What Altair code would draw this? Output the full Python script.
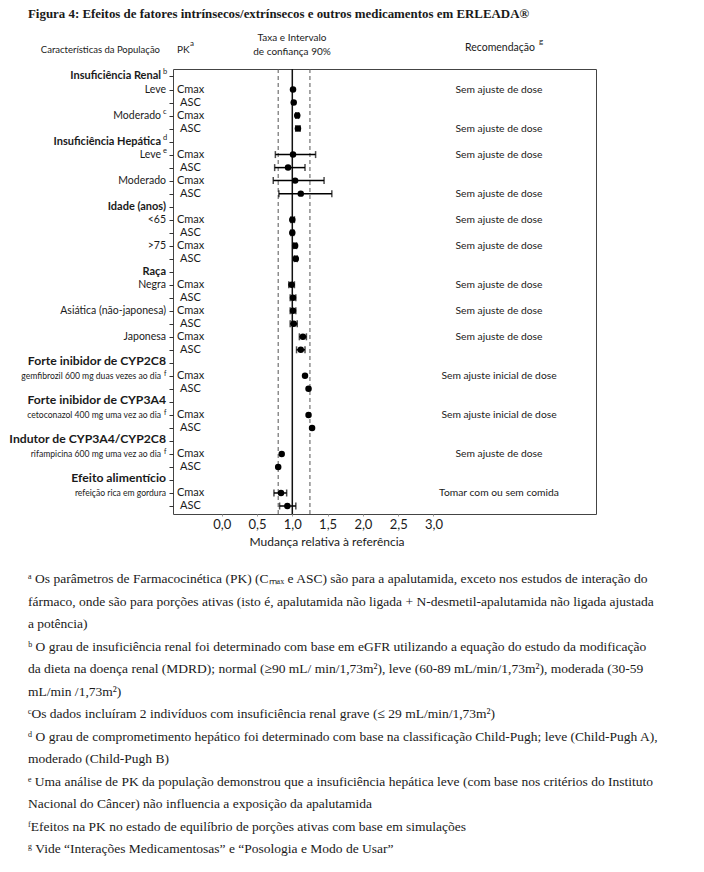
import altair as alt
import pandas as pd

TITLE = "Figura 4: Efeitos de fatores intrínsecos/extrínsecos e outros medicamentos em ERLEADA®"

ROW_LABELS = [
    "Insuficiência Renal", "Leve", "", "Moderado", "",
    "Insuficiência Hepática", "Leve", "", "Moderado", "",
    "Idade (anos)", "<65", "", ">75", "",
    "Raça", "Negra", "", "Asiática (não-japonesa)", "", "Japonesa", "",
    "Forte inibidor de CYP2C8", "gemfibrozil 600 mg duas vezes ao dia", "",
    "Forte inibidor de CYP3A4", "cetoconazol 400 mg uma vez ao dia", "",
    "Indutor de CYP3A4/CYP2C8", "rifampicina 600 mg uma vez ao dia", "",
    "Efeito alimentício", "refeição rica em gordura", "",
]
ROW_KIND = [
    "h1", "n", "", "n", "",
    "h1", "n", "", "n", "",
    "h1", "n", "", "n", "",
    "h1", "n", "", "n", "", "n", "",
    "h2", "d", "",
    "h2", "d", "",
    "h2", "d", "",
    "h2", "d", "",
]
ROW_SUP = [
    "b", "", "", "c", "",
    "d", "e", "", "", "",
    "", "", "", "", "",
    "", "", "", "", "", "", "",
    "", "f", "",
    "", "f", "",
    "", "f", "",
    "", "", "",
]
PK = [
    "", "Cmax", "ASC", "Cmax", "ASC",
    "", "Cmax", "ASC", "Cmax", "ASC",
    "", "Cmax", "ASC", "Cmax", "ASC",
    "", "Cmax", "ASC", "Cmax", "ASC", "Cmax", "ASC",
    "", "Cmax", "ASC",
    "", "Cmax", "ASC",
    "", "Cmax", "ASC",
    "", "Cmax", "ASC",
]
RATIO = [
    None, 1.01, 1.02, 1.07, 1.08,
    None, 1.01, 0.94, 1.04, 1.12,
    None, 1.00, 1.00, 1.04, 1.05,
    None, 0.99, 1.01, 1.01, 1.02, 1.15, 1.12,
    None, 1.18, 1.23,
    None, 1.23, 1.28,
    None, 0.85, 0.80,
    None, 0.84, 0.93,
]
CI_LO = [
    None, None, None, 1.05, 1.05,
    None, 0.76, 0.75, 0.73, 0.81,
    None, 0.98, 0.98, 1.02, 1.03,
    None, 0.95, 0.97, 0.97, 0.97, 1.10, 1.06,
    None, None, None,
    None, None, None,
    None, None, None,
    None, 0.74, 0.82,
]
CI_HI = [
    None, None, None, 1.09, 1.11,
    None, 1.33, 1.18, 1.45, 1.56,
    None, 1.03, 1.02, 1.06, 1.07,
    None, 1.03, 1.05, 1.05, 1.07, 1.20, 1.18,
    None, None, None,
    None, None, None,
    None, None, None,
    None, 0.92, 1.05,
]
RECOMMENDATION = [
    "", "Sem ajuste de dose", "", "", "Sem ajuste de dose",
    "", "Sem ajuste de dose", "", "", "Sem ajuste de dose",
    "", "Sem ajuste de dose", "", "Sem ajuste de dose", "",
    "", "Sem ajuste de dose", "", "Sem ajuste de dose", "", "Sem ajuste de dose", "",
    "", "Sem ajuste inicial de dose", "",
    "", "Sem ajuste inicial de dose", "",
    "", "Sem ajuste de dose", "",
    "", "Tomar com ou sem comida", "",
]
X_TICKS = [0.0, 0.5, 1.0, 1.5, 2.0, 2.5, 3.0]
REF_LINE = [1.0]
BOUND_LINES = [0.8, 1.25]
X_TITLE = "Mudança relativa à referência"
FOOTNOTES = [
    "ᵃ Os parâmetros de Farmacocinética (PK) (Cₘₐₓ e ASC) são para a apalutamida, exceto nos estudos de interação do",
    "fármaco, onde são para porções ativas (isto é, apalutamida não ligada + N-desmetil-apalutamida não ligada ajustada",
    "a potência)",
    "ᵇ O grau de insuficiência renal foi determinado com base em eGFR utilizando a equação do estudo da modificação",
    "da dieta na doença renal (MDRD); normal (≥90 mL/ min/1,73m²), leve (60-89 mL/min/1,73m²), moderada (30-59",
    "mL/min /1,73m²)",
    "ᶜOs dados incluíram 2 indivíduos com insuficiência renal grave (≤ 29 mL/min/1,73m²)",
    "ᵈ O grau de comprometimento hepático foi determinado com base na classificação Child-Pugh; leve (Child-Pugh A),",
    "moderado (Child-Pugh B)",
    "ᵉ Uma análise de PK da população demonstrou que a insuficiência hepática leve (com base nos critérios do Instituto",
    "Nacional do Câncer) não influencia a exposição da apalutamida",
    "ᶠEfeitos na PK no estado de equilíbrio de porções ativas com base em simulações",
    "ᵍ Vide “Interações Medicamentosas” e “Posologia e Modo de Usar”",
]

df = pd.DataFrame({
    "row": list(range(len(ROW_LABELS))),
    "label": ROW_LABELS,
    "kind": ROW_KIND,
    "sup": ROW_SUP,
    "pk": PK,
    "ratio": RATIO,
    "lo": CI_LO,
    "hi": CI_HI,
    "rec": RECOMMENDATION,
})

SANS = "Lato"
SERIF = "Liberation Serif"
INK = "#1a1a1a"

xscale = alt.Scale(domain=[-0.69, 5.302], nice=False, zero=False)
yscale = alt.Scale(domain=[-0.576, 33.615], reverse=True, nice=False, zero=False)
xaxis = alt.Axis(values=X_TICKS, format=".1f", labelExpr="replace(datum.label, '.', ',')",
                 title=None, grid=False, domain=False, tickSize=2, tickColor="#999",
                 labelFont=SANS, labelFontSize=13, labelColor=INK, labelPadding=2)
yaxis = alt.Axis(values=list(range(len(ROW_LABELS))), labels=False, title=None, grid=False,
                 domain=False, tickSize=4, tickColor="#333", tickWidth=1)

base = alt.Chart(df)
Y = alt.Y("row:Q", scale=yscale, axis=yaxis)

bounds = alt.Chart(pd.DataFrame({"v": BOUND_LINES})).mark_rule(
    color="#555", strokeDash=[4, 3], strokeWidth=1
).encode(x=alt.X("v:Q", scale=xscale, axis=xaxis))
ref = alt.Chart(pd.DataFrame({"v": REF_LINE})).mark_rule(
    color="#111", strokeWidth=1.5
).encode(x=alt.X("v:Q", scale=xscale, axis=xaxis))

ci = base.transform_filter("isValid(datum.lo)").mark_rule(color="#000", strokeWidth=1.5).encode(
    x=alt.X("lo:Q", scale=xscale, axis=xaxis), x2="hi:Q", y=Y)
cap_lo = base.transform_filter("isValid(datum.lo)").mark_tick(
    orient="vertical", size=7, thickness=1.5, color="#000").encode(
    x=alt.X("lo:Q", scale=xscale, axis=xaxis), y=Y)
cap_hi = base.transform_filter("isValid(datum.hi)").mark_tick(
    orient="vertical", size=7, thickness=1.5, color="#000").encode(
    x=alt.X("hi:Q", scale=xscale, axis=xaxis), y=Y)
pts = base.transform_filter("isValid(datum.ratio)").mark_point(
    filled=True, shape="circle", size=42, color="#000", opacity=1).encode(
    x=alt.X("ratio:Q", scale=xscale, axis=xaxis), y=Y)

def row_text(filter_expr, x, **kw):
    return base.transform_filter(filter_expr).mark_text(font=SANS, color=INK, **kw).encode(
        x=alt.value(x), y=Y, text="label:N")

lab_h1 = row_text("datum.kind == 'h1' && datum.sup == ''", -7, align="right", fontSize=11, fontWeight="bold")
lab_h1s = row_text("datum.kind == 'h1' && datum.sup != ''", -12, align="right", fontSize=11, fontWeight="bold")
lab_n = row_text("datum.kind == 'n' && datum.sup == ''", -7, align="right", fontSize=10.5)
lab_ns = row_text("datum.kind == 'n' && datum.sup != ''", -12, align="right", fontSize=10.5)
lab_h2 = row_text("datum.kind == 'h2'", -7, align="right", fontSize=12.2, fontWeight="bold", dy=-1.5)
lab_d = row_text("datum.kind == 'd' && datum.sup == ''", -7, align="right", fontSize=8.6)
lab_ds = row_text("datum.kind == 'd' && datum.sup != ''", -12, align="right", fontSize=8.6)
sups = base.transform_filter("datum.sup != '' && datum.kind != 'd'").mark_text(
    font=SANS, color=INK, fontSize=7.5, align="left", dy=-4).encode(
    x=alt.value(-10), y=Y, text="sup:N")
sups_d = base.transform_filter("datum.sup != '' && datum.kind == 'd'").mark_text(
    font=SANS, color=INK, fontSize=7, align="left", dy=-2).encode(
    x=alt.value(-9), y=Y, text="sup:N")

pk_c = base.transform_filter("datum.pk == 'Cmax'").mark_text(
    font=SANS, color=INK, fontSize=11, align="left").encode(x=alt.value(4), y=Y, text="pk:N")
pk_a = base.transform_filter("datum.pk == 'ASC'").mark_text(
    font=SANS, color=INK, fontSize=11, align="left", dy=0.5).encode(x=alt.value(7), y=Y, text="pk:N")
recs = base.transform_filter("datum.rec != ''").mark_text(
    font=SANS, color=INK, fontSize=10.3, align="center").encode(x=alt.value(326), y=Y, text="rec:N")

def note(text, x, y, **kw):
    opts = dict(font=SANS, color=INK, fontSize=10.5)
    opts.update(kw)
    return alt.Chart(pd.DataFrame({"t": [text]})).mark_text(**opts).encode(
        x=alt.value(x), y=alt.value(y), text="t:N")

headers = [
    note(TITLE, -145, -55, font=SERIF, fontSize=12.9, fontWeight="bold", align="left"),
    note("Características da População", -13, -19, align="right", fontSize=9.5),
    note("PK", 4, -19, align="left", fontSize=10),
    note("a", 17, -25, fontSize=8, align="left"),
    note("Taxa e Intervalo", 119, -31, fontSize=10),
    note("de confiança 90%", 119, -17, fontSize=10),
    note("Recomendação", 327, -21, fontSize=10.5),
    note("g", 366, -27, fontSize=8, align="left"),
    note(X_TITLE, 154, 473, fontSize=12),
    note("\n".join(FOOTNOTES), -145, 503, font=SERIF, fontSize=13.5, align="left",
         baseline="top", lineBreak="\n", lineHeight=22.5),
]

chart = alt.layer(
    bounds, ref, ci, cap_lo, cap_hi, pts,
    lab_h1, lab_h1s, lab_n, lab_ns, lab_h2, lab_d, lab_ds, sups, sups_d,
    pk_c, pk_a, recs, *headers,
).properties(
    width=423, height=445,
    autosize=alt.AutoSizeParams(type="none"),
    padding={"left": 165, "top": 61, "right": 100, "bottom": 350},
    background="white",
).configure_view(stroke="#444", strokeWidth=1)

chart.save("out.html", embed_options={"renderer": "svg", "actions": False})
